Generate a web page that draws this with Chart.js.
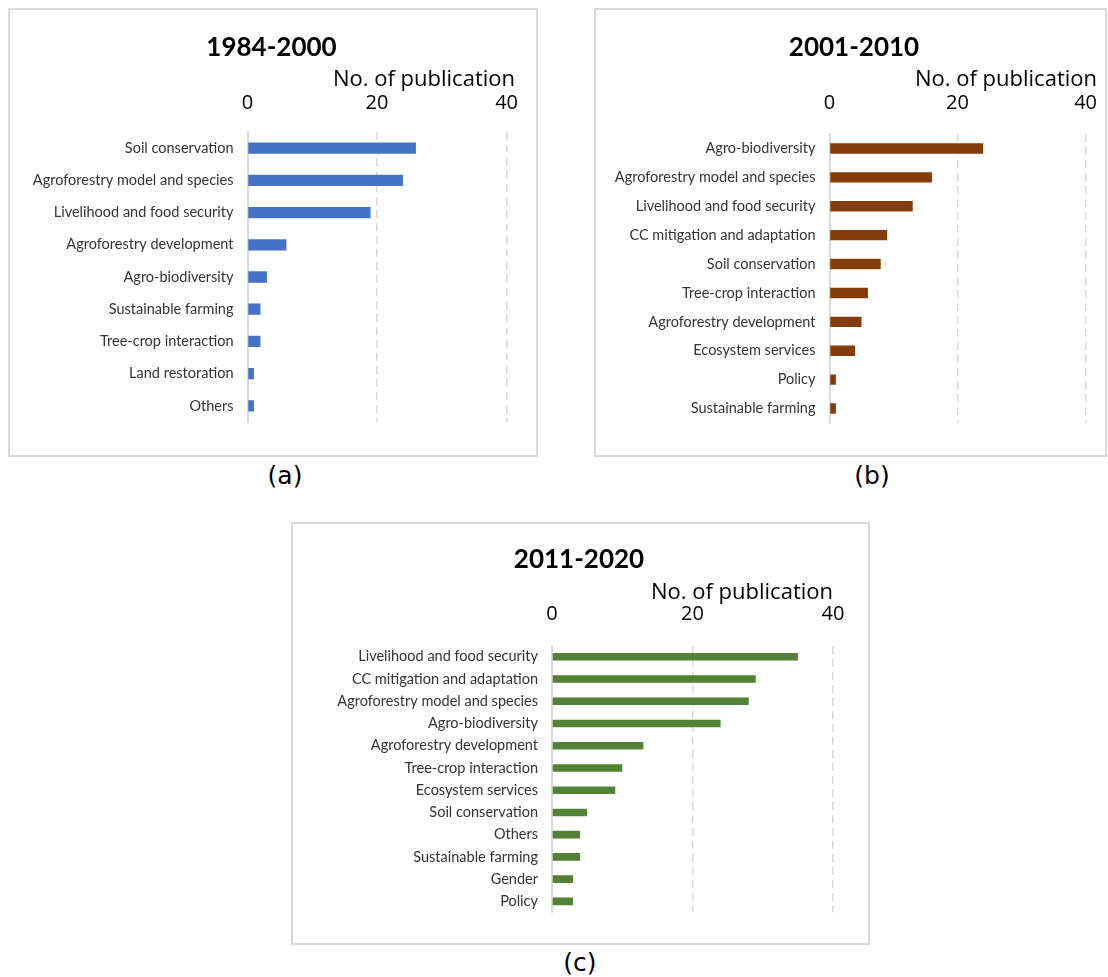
<!DOCTYPE html>
<html>
<head>
<meta charset="utf-8">
<script src="https://cdn.jsdelivr.net/npm/chart.js@4.4.1/dist/chart.umd.min.js"></script>
<style>
  html, body { margin: 0; padding: 0; background: #ffffff; }
  body { position: relative; width: 1108px; height: 977px; overflow: hidden; }
  .panel { position: absolute; box-sizing: border-box; border: 2px solid #d9d9d9; }
  canvas { position: absolute; }
  .cap { position: absolute; width: 100px; height: 30px; line-height: 30px; text-align: center;
         font-family: 'DejaVu Sans', sans-serif; font-size: 25px; color: #000; }
</style>
</head>
<body>
<div class="panel" style="left:8px;top:8px;width:530px;height:449px;"></div>
<div class="panel" style="left:594px;top:8px;width:513px;height:449px;"></div>
<div class="panel" style="left:291px;top:522px;width:579px;height:423px;"></div>

<canvas id="chartA" width="508" height="445" style="left:10px;top:10px;"></canvas>
<canvas id="chartB" width="501" height="445" style="left:596px;top:10px;"></canvas>
<canvas id="chartC" width="554" height="420" style="left:293px;top:524px;"></canvas>

<div class="cap" style="left:235px;top:461px;">(a)</div>
<div class="cap" style="left:822px;top:461px;">(b)</div>
<div class="cap" style="left:530px;top:948px;">(c)</div>

<script>
// ---- data ----
const xTicks = [0, 20, 40];
const axisTitle = 'No. of publication';
const periods = ['1984-2000', '2001-2010', '2011-2020'];

const categoriesA = ['Soil conservation', 'Agroforestry model and species', 'Livelihood and food security',
  'Agroforestry development', 'Agro-biodiversity', 'Sustainable farming', 'Tree-crop interaction',
  'Land restoration', 'Others'];
const valuesA = [26, 24, 19, 6, 3, 2, 2, 1, 1];

const categoriesB = ['Agro-biodiversity', 'Agroforestry model and species', 'Livelihood and food security',
  'CC mitigation and adaptation', 'Soil conservation', 'Tree-crop interaction', 'Agroforestry development',
  'Ecosystem services', 'Policy', 'Sustainable farming'];
const valuesB = [24, 16, 13, 9, 8, 6, 5, 4, 1, 1];

const categoriesC = ['Livelihood and food security', 'CC mitigation and adaptation', 'Agroforestry model and species',
  'Agro-biodiversity', 'Agroforestry development', 'Tree-crop interaction', 'Ecosystem services',
  'Soil conservation', 'Others', 'Sustainable farming', 'Gender', 'Policy'];
const valuesC = [35, 29, 28, 24, 13, 10, 9, 5, 4, 4, 3, 3];

// ---- chart builder ----
function makeChart(id, labels, values, title, color, L) {
  return new Chart(document.getElementById(id), {
    type: 'bar',
    data: {
      labels: labels,
      datasets: [{ data: values, backgroundColor: color, barPercentage: L.bar, categoryPercentage: 1 }]
    },
    options: {
      indexAxis: 'y',
      responsive: false,
      animation: false,
      events: [],
      layout: { padding: { left: L.pl, right: L.pr, top: 0, bottom: L.pb } },
      plugins: {
        legend: { display: false },
        tooltip: { enabled: false },
        title: {
          display: true, text: title, align: 'center', color: '#000',
          font: { family: 'Lato', size: 26, weight: 'bold', lineHeight: 1.2 },
          padding: { top: L.tpt, bottom: 0 }
        },
        subtitle: {
          display: true, text: axisTitle, align: 'end', color: '#000',
          font: { family: 'Open Sans', size: 22, lineHeight: 1.2 },
          padding: { top: L.spt, bottom: 0 }
        }
      },
      scales: {
        x: {
          position: 'top',
          min: xTicks[0],
          max: xTicks[xTicks.length - 1],
          ticks: {
            stepSize: xTicks[1] - xTicks[0],
            padding: 0, color: '#000',
            font: { family: 'Open Sans', size: 20, lineHeight: L.tlh }
          },
          grid: { color: '#d9d9d9', lineWidth: 1.5, drawTicks: false },
          border: { display: false, dash: [8, 5] },
          afterFit: function (s) { s.height = L.xh; }
        },
        y: {
          ticks: {
            padding: 14, color: '#333', autoSkip: false,
            font: { family: 'Lato', size: 14.5 }
          },
          grid: { display: false, drawTicks: false },
          border: { display: true, color: '#d9d9d9', width: 2 },
          afterFit: function (s) { s.width = L.yw; }
        }
      }
    }
  });
}

makeChart('chartA', categoriesA, valuesA, periods[0], '#4472C4',
  { pl: 18, pr: 3, pb: 33, tpt: 22, spt: 3, xh: 39.4, tlh: 2.87, yw: 219.5, bar: 0.35 });
makeChart('chartB', categoriesB, valuesB, periods[1], '#843C0C',
  { pl: 15, pr: 0, pb: 32, tpt: 22, spt: 3, xh: 41.4, tlh: 3.07, yw: 218.5, bar: 0.36 });
makeChart('chartC', categoriesC, valuesC, periods[2], '#548235',
  { pl: 32, pr: 14, pb: 31.5, tpt: 20, spt: 4, xh: 40, tlh: 3.09, yw: 227, bar: 0.34 });
</script>
</body>
</html>
